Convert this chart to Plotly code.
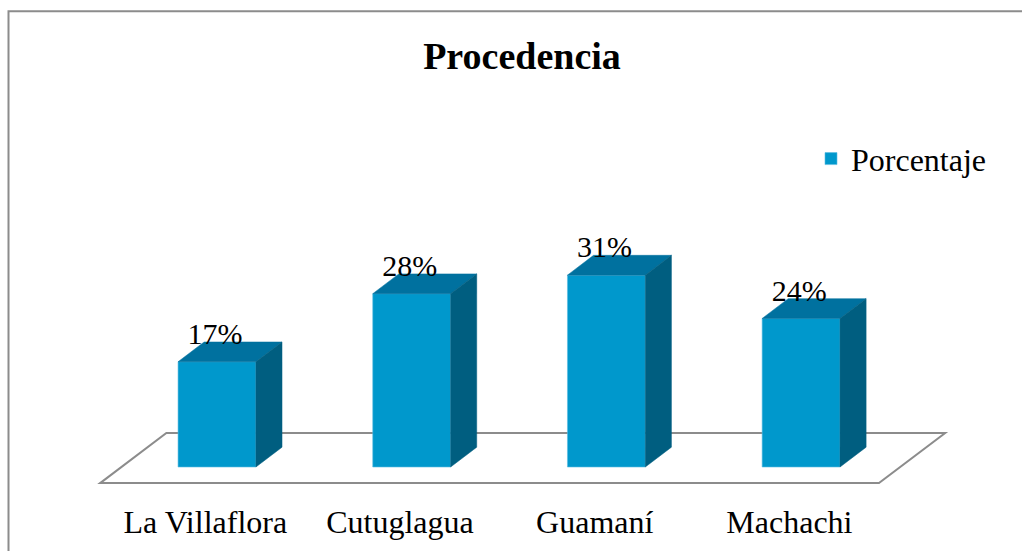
import plotly.graph_objects as go

# Data
categorias = ["La Villaflora", "Cutuglagua", "Guamaní", "Machachi"]
porcentajes = [17, 28, 31, 24]
etiquetas = ["17%", "28%", "31%", "24%"]

# colours for the fake 3D bars
front_col = "#0098CC"
top_col = "#00719F"
side_col = "#005E80"
line_col = "#8C8C8C"

bar_w = 0.4
dx, dy = 0.134, 3.2          # depth of each bar (x units, % units)
fdx, fdy = 0.34, 8.1         # depth of the floor
floor_y = -2.6

xs = list(range(len(categorias)))

fig = go.Figure()

# front faces
fig.add_trace(go.Bar(
    x=xs, y=porcentajes, width=bar_w, name="Porcentaje",
    marker=dict(color=front_col, line=dict(color="#5DBCE0", width=0.6)),
    showlegend=True, hoverinfo="skip",
))

# top and side faces built from the values
for i, v in zip(xs, porcentajes):
    l, r = i - bar_w / 2, i + bar_w / 2
    fig.add_trace(go.Scatter(
        x=[l, r, r + dx, l + dx, l], y=[v, v, v + dy, v + dy, v],
        fill="toself", fillcolor=top_col, mode="lines",
        line=dict(color=top_col, width=0.5), showlegend=False, hoverinfo="skip",
    ))
    fig.add_trace(go.Scatter(
        x=[r, r + dx, r + dx, r, r], y=[0, dy, v + dy, v, 0],
        fill="toself", fillcolor=side_col, mode="lines",
        line=dict(color=side_col, width=0.5), showlegend=False, hoverinfo="skip",
    ))

# value labels
fig.add_trace(go.Scatter(
    x=[i - 0.01 for i in xs], y=[v + 4.1 for v in porcentajes],
    text=etiquetas, mode="text", textposition="middle center",
    textfont=dict(family="Liberation Serif", size=30, color="black"),
    showlegend=False, hoverinfo="skip",
))

# floor parallelogram
n = len(categorias)
x0, x1 = -0.6, n - 0.6
floor_path = (f"M{x0},{floor_y} L{x1},{floor_y} L{x1 + fdx},{floor_y + fdy} "
              f"L{x0 + fdx},{floor_y + fdy} Z")
fig.add_shape(type="path", path=floor_path, xref="x", yref="y",
              line=dict(color=line_col, width=2), layer="below")

# outer chart border
fig.add_shape(type="rect", xref="paper", yref="paper",
              x0=8.5 / 1022, x1=1.2, y0=-0.2, y1=1 - 12.5 / 551,
              line=dict(color=line_col, width=2))

fig.update_layout(
    width=1022, height=551,
    margin=dict(l=0, r=0, t=0, b=51),
    paper_bgcolor="white", plot_bgcolor="rgba(0,0,0,0)",
    font=dict(family="Liberation Serif", size=32, color="black"),
    title=dict(text="<b>Procedencia</b>", x=522 / 1022, xanchor="center",
               y=1 - 56 / 551, yanchor="middle",
               font=dict(family="Liberation Serif", size=38, color="black")),
    legend=dict(x=811 / 1022, y=1 - 175 / 551, xanchor="left", yanchor="middle",
                bgcolor="rgba(0,0,0,0)", itemwidth=30,
                font=dict(family="Liberation Serif", size=32, color="black")),
    xaxis=dict(range=[-1.1145, 4.1346], tickvals=[i - 0.06 for i in xs],
               ticktext=categorias, showgrid=False, zeroline=False,
               showline=False, ticks="", tickfont=dict(size=32)),
    yaxis=dict(range=[-5.33, 75.45], visible=False),
    showlegend=True,
)

fig.write_html("out.html", config={"displayModeBar": False},
               post_script="document.body.style.margin='0';")
